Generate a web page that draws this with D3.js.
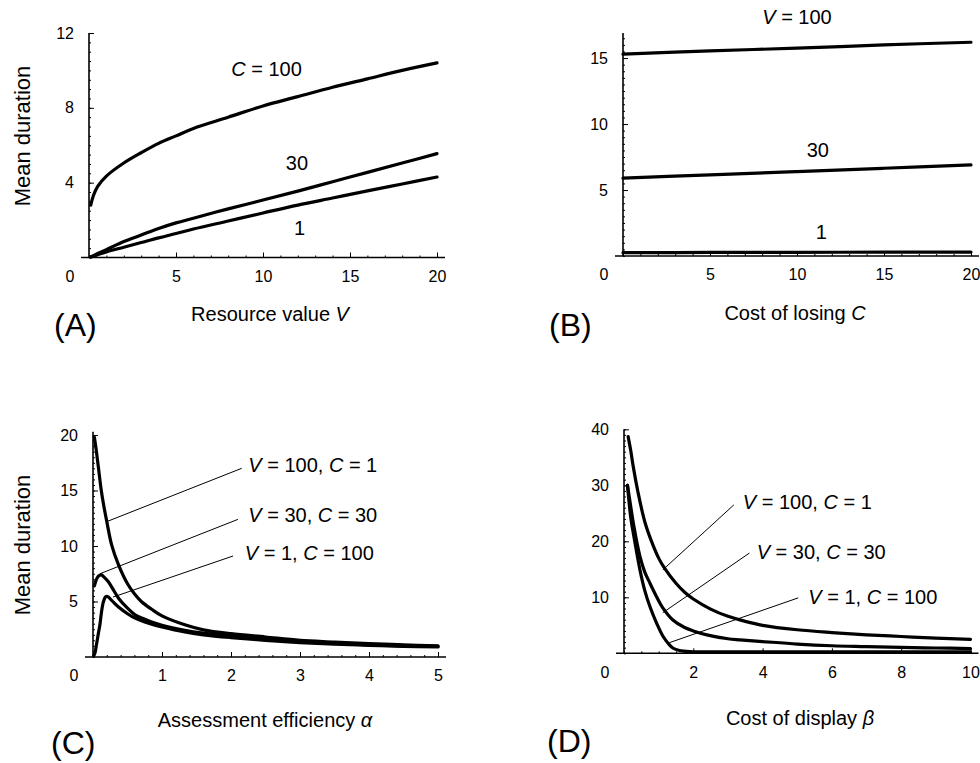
<!DOCTYPE html>
<html>
<head>
<meta charset="utf-8">
<script src="https://cdn.jsdelivr.net/npm/d3@7"></script>
<style>
  body { margin: 0; background: #fff; }
  text { font-family: "Liberation Sans", Arial, Helvetica, sans-serif; fill: #000; }
</style>
</head>
<body>
<svg id="chart" width="980" height="763"></svg>
<script>
// ---- data ----

// (A) mean duration vs resource value V, one curve per cost of losing C
var aV    = [0.1, 0.25, 0.5, 1, 2, 3, 4, 5, 6, 8, 10, 12, 14, 16, 18, 20];
var aC100 = [2.8, 3.3, 3.8, 4.35, 5.05, 5.6, 6.1, 6.5, 6.9, 7.5, 8.1, 8.6, 9.1, 9.55, 10.0, 10.4];
var aC30  = [0.04, 0.1, 0.21, 0.42, 0.85, 1.2, 1.55, 1.85, 2.1, 2.6, 3.07, 3.55, 4.05, 4.55, 5.05, 5.55];
var aC1   = [0.02, 0.07, 0.15, 0.3, 0.55, 0.8, 1.05, 1.28, 1.52, 1.95, 2.38, 2.8, 3.18, 3.56, 3.93, 4.3];

// (B) mean duration vs cost of losing C, one line per resource value V
var bC    = [0, 5, 10, 15, 20];
var bV100 = [15.3, 15.55, 15.75, 16.0, 16.2];
var bV30  = [5.9, 6.15, 6.4, 6.65, 6.9];
var bV1   = [0.25, 0.27, 0.28, 0.29, 0.3];

// (C) mean duration vs assessment efficiency alpha
var cV100C1 = [[0.02,19.8],[0.05,18.5],[0.08,17.0],[0.12,15.0],[0.16,13.5],[0.2,12.2],[0.27,10.1],[0.37,8.3],
               [0.5,6.6],[0.6,5.7],[0.7,5.0],[0.85,4.3],[1.0,3.7],[1.33,2.9],[1.6,2.45],[2,2.1],[2.5,1.8],
               [3,1.5],[3.5,1.35],[4,1.2],[4.5,1.1],[5,1.0]];
var cV30C30 = [[0.02,6.4],[0.05,7.0],[0.08,7.3],[0.12,7.4],[0.16,7.2],[0.22,6.8],[0.3,6.0],[0.37,5.3],
               [0.5,4.4],[0.61,3.8],[0.75,3.4],[0.85,3.15],[1.0,2.85],[1.33,2.4],[1.6,2.15],[2,1.9],[2.5,1.6],
               [3,1.4],[3.5,1.25],[4,1.1],[4.5,1.0],[5,0.95]];
var cV1C100 = [[0.01,0.1],[0.03,0.4],[0.05,1.1],[0.08,2.2],[0.1,2.9],[0.12,3.9],[0.14,4.7],[0.16,5.15],
               [0.18,5.4],[0.21,5.45],[0.27,5.1],[0.37,4.5],[0.5,3.9],[0.61,3.5],[0.75,3.15],[0.85,2.95],
               [1.0,2.7],[1.33,2.25],[1.6,2.0],[2,1.75],[2.5,1.5],[3,1.3],[3.5,1.15],[4,1.05],[4.5,0.95],[5,0.9]];

// (D) mean duration vs cost of display beta
var dV100C1 = [[0.12,38.7],[0.2,36],[0.26,33.6],[0.4,28.9],[0.6,23.5],[0.8,19.9],[1.0,17.0],[1.17,15.2],
               [1.5,12.5],[1.75,10.9],[2,9.7],[2.5,7.9],[3,6.6],[3.5,5.7],[4,5.0],[5,4.2],[6,3.7],[7,3.3],
               [8,3.0],[9,2.7],[10,2.5]];
var dV30C30 = [[0.1,30],[0.2,26],[0.27,23.2],[0.46,17.3],[0.6,14.5],[0.75,12.5],[0.94,10.1],[1.1,8.3],
               [1.42,5.9],[1.75,4.6],[2,4.0],[2.39,3.3],[3,2.6],[3.35,2.4],[4,2.1],[5,1.65],[6,1.35],
               [7,1.2],[8,1.05],[9,0.95],[10,0.85]];
var dV1C100 = [[0.1,30],[0.2,24],[0.27,21.4],[0.46,14.9],[0.6,11.2],[0.75,8.3],[0.94,5.4],[1.13,3.0],
               [1.3,1.6],[1.42,0.9],[1.6,0.5],[1.9,0.3],[3,0.25],[5,0.25],[10,0.25]];

// tick labels
var aXTicks = [5, 10, 15, 20], aYTicks = [4, 8, 12];
var bXTicks = [5, 10, 15, 20], bYTicks = [5, 10, 15];
var cXTicks = [1, 2, 3, 4, 5], cYTicks = [5, 10, 15, 20];
var dXTicks = [2, 4, 6, 8, 10], dYTicks = [10, 20, 30, 40];

var svg = d3.select('#chart');

// write a label made of [text, italic] pieces
function richText(sel, parts) {
  parts.forEach(function(p) {
    sel.append('tspan').text(p[0]).attr('font-style', p[1] ? 'italic' : null);
  });
  return sel;
}

function panel(p) {
  var x = d3.scaleLinear().domain(p.xDomain).range(p.xRange);
  var y = d3.scaleLinear().domain(p.yDomain).range(p.yRange);
  var g = svg.append('g');

  // minor + major ticks pointing into the plot
  g.append('g').attr('transform', `translate(0,${y(0)})`)
    .call(d3.axisTop(x).tickValues(d3.range(p.xDomain[0], p.xDomain[1] + 1e-9, p.xMinor)).tickSize(2).tickFormat(''));
  g.append('g').attr('transform', `translate(0,${y(0)})`)
    .call(d3.axisTop(x).tickValues(p.xTicks).tickSize(5).tickFormat(''));
  g.append('g').attr('transform', `translate(${x(0)},0)`)
    .call(d3.axisRight(y).tickValues(d3.range(0, p.yDomain[1] + 1e-9, p.yMinor)).tickSize(2).tickFormat(''));
  g.append('g').attr('transform', `translate(${x(0)},0)`)
    .call(d3.axisRight(y).tickValues(p.yTicks).tickSize(5).tickFormat(''));
  g.selectAll('.domain').remove();
  g.selectAll('.tick line').attr('stroke', '#000').attr('stroke-width', 1);

  // tick labels
  var fmt = function(d) { return String(d); };
  var xl = g.append('g').attr('transform', `translate(0,${y(0)})`)
    .call(d3.axisBottom(x).tickValues(p.xTicks).tickSize(0).tickPadding(13).tickFormat(fmt));
  var yl = g.append('g').attr('transform', `translate(${x(0)},0)`)
    .call(d3.axisLeft(y).tickValues(p.yTicks).tickSize(0).tickPadding(15).tickFormat(fmt));
  [xl, yl].forEach(function(a) {
    a.select('.domain').remove();
    a.selectAll('text').attr('font-size', 16).attr('font-family', null);
  });
  g.append('text').attr('x', x(0) - 19).attr('y', y(0) + 13).attr('dy', '0.71em')
    .attr('text-anchor', 'middle').attr('font-size', 16).text('0');

  // axis lines
  g.append('line').attr('x1', x(0) - 8).attr('x2', x(p.xDomain[1]) + 8)
    .attr('y1', y(0)).attr('y2', y(0)).attr('stroke', '#000').attr('stroke-width', 1.6);
  g.append('line').attr('x1', x(0)).attr('x2', x(0))
    .attr('y1', y(0)).attr('y2', y(p.yDomain[1])).attr('stroke', '#000').attr('stroke-width', 1.6);

  // curves
  var line = d3.line().x(function(d) { return x(d[0]); }).y(function(d) { return y(d[1]); })
    .curve(d3.curveCatmullRom.alpha(0.5));
  g.selectAll('.curve').data(p.series).enter().append('path')
    .attr('class', 'curve')
    .attr('d', line)
    .attr('fill', 'none').attr('stroke', '#000').attr('stroke-width', 3.2)
    .attr('stroke-linejoin', 'round').attr('stroke-linecap', 'round');

  // leader lines
  (p.leaders || []).forEach(function(l) {
    g.append('line').attr('x1', x(l[0])).attr('y1', y(l[1])).attr('x2', x(l[2])).attr('y2', y(l[3]))
      .attr('stroke', '#000').attr('stroke-width', 1);
  });

  // curve labels
  p.labels.forEach(function(l) {
    var t = g.append('text').attr('x', x(l.at[0])).attr('y', y(l.at[1])).attr('dy', '0.35em')
      .attr('font-size', 20).attr('text-anchor', l.anchor || 'middle');
    richText(t, l.parts);
  });

  // axis titles and panel letter
  richText(g.append('text').attr('x', p.title[0]).attr('y', p.title[1]).attr('dy', '0.35em')
    .attr('font-size', 20).attr('text-anchor', 'middle'), p.titleParts);
  g.append('text').attr('x', p.letter[0]).attr('y', p.letter[1]).attr('dy', '0.35em')
    .attr('font-size', 32).text('(' + p.id + ')');
  if (p.yTitle) {
    g.append('text').attr('transform', `translate(${p.yTitle[0]},${p.yTitle[1]}) rotate(-90)`)
      .attr('dy', '0.35em').attr('text-anchor', 'middle').attr('font-size', 22).text('Mean duration');
  }
}

function pairs(xs, ys) { return xs.map(function(v, i) { return [v, ys[i]]; }); }

panel({
  id: 'A', xDomain: [0, 20], xRange: [89, 437], yDomain: [0, 12], yRange: [257.5, 33],
  xTicks: aXTicks, yTicks: aYTicks, xMinor: 1, yMinor: 0.5,
  series: [pairs(aV, aC100), pairs(aV, aC30), pairs(aV, aC1)],
  labels: [
    { at: [10.2, 10.1], parts: [['C', true], [' = 100', false]] },
    { at: [11.95, 5.05], parts: [['30', false]] },
    { at: [12.1, 1.6], parts: [['1', false]] }
  ],
  title: [270, 314], titleParts: [['Resource value ', false], ['V', true]],
  letter: [54, 325], yTitle: [22, 136]
});

panel({
  id: 'B', xDomain: [0, 20], xRange: [623, 971], yDomain: [0, 16.9], yRange: [256, 33],
  xTicks: bXTicks, yTicks: bYTicks, xMinor: 1, yMinor: 0.5,
  series: [pairs(bC, bV100), pairs(bC, bV30), pairs(bC, bV1)],
  labels: [
    { at: [10, 18.1], parts: [['V', true], [' = 100', false]] },
    { at: [11.2, 8.0], parts: [['30', false]] },
    { at: [11.4, 1.8], parts: [['1', false]] }
  ],
  title: [795, 313], titleParts: [['Cost of losing ', false], ['C', true]],
  letter: [549, 325]
});

panel({
  id: 'C', xDomain: [0, 5], xRange: [93, 438], yDomain: [0, 20.3], yRange: [657, 431.7],
  xTicks: cXTicks, yTicks: cYTicks, xMinor: 0.2, yMinor: 0.5,
  series: [cV100C1, cV30C30, cV1C100],
  leaders: [[0.2, 12.2, 2.155, 17.0], [0.1, 7.5, 2.1, 12.4], [0.29, 5.4, 2.03, 9.1]],
  labels: [
    { at: [2.25, 17.3], anchor: 'start', parts: [['V', true], [' = 100, ', false], ['C', true], [' = 1', false]] },
    { at: [2.25, 12.8], anchor: 'start', parts: [['V', true], [' = 30, ', false], ['C', true], [' = 30', false]] },
    { at: [2.2, 9.4], anchor: 'start', parts: [['V', true], [' = 1, ', false], ['C', true], [' = 100', false]] }
  ],
  title: [265, 720], titleParts: [['Assessment efficiency ', false], ['\u03b1', true]],
  letter: [51, 743], yTitle: [22, 545]
});

panel({
  id: 'D', xDomain: [0, 10], xRange: [624, 970.5], yDomain: [0, 40], yRange: [653.3, 429.3],
  xTicks: dXTicks, yTicks: dYTicks, xMinor: 0.5, yMinor: 1,
  series: [dV100C1, dV30C30, dV1C100],
  leaders: [[1.12, 14.9, 3.17, 26.5], [1.12, 7.25, 3.62, 17.9], [1.31, 1.9, 5.03, 9.9]],
  labels: [
    { at: [3.43, 27.1], anchor: 'start', parts: [['V', true], [' = 100, ', false], ['C', true], [' = 1', false]] },
    { at: [3.83, 18.1], anchor: 'start', parts: [['V', true], [' = 30, ', false], ['C', true], [' = 30', false]] },
    { at: [5.32, 10.1], anchor: 'start', parts: [['V', true], [' = 1, ', false], ['C', true], [' = 100', false]] }
  ],
  title: [800, 718], titleParts: [['Cost of display ', false], ['\u03b2', true]],
  letter: [547, 741]
});
</script>
</body>
</html>
